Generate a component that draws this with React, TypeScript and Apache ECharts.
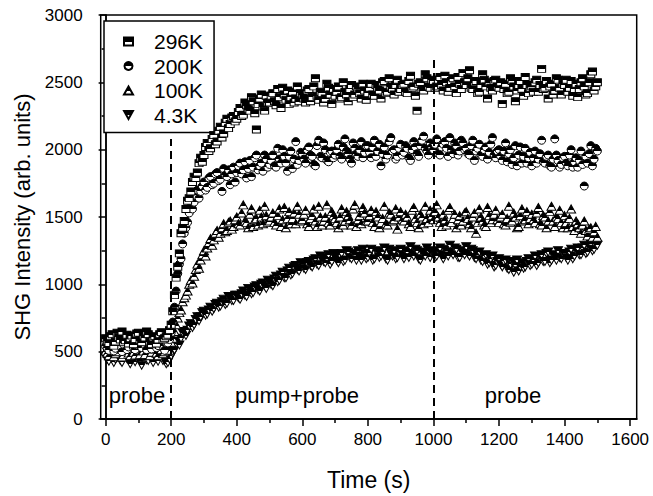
import React, { useEffect, useRef } from "react";
import * as echarts from "echarts";

const FONT = "Liberation Sans, Arial, sans-serif";

// sample times (s), one point every 5 s from 0 to 1500
const times: number[] = [];
for (let t = 0; t <= 1500; t += 5) times.push(t);

const xTickLabels = [0, 200, 400, 600, 800, 1000, 1200, 1400, 1600];
const xMinorTicks = [100, 300, 500, 700, 900, 1100, 1300, 1500];
const yMinorTicks = [250, 750, 1250, 1750, 2250, 2750];

const seriesNames = ["296K", "200K", "100K", "4.3K"];

const v296K = [
  600, 580, 565, 615, 630, 545, 575, 640, 610, 590, 650, 570, 585, 625, 560, 600, 620, 555, 595, 635,
  640, 585, 570, 620, 605, 650, 630, 575, 555, 605, 615, 560, 590, 630, 645, 590, 600, 615, 625, 660,
  700, 800, 920, 1050, 1130, 1230, 1380, 1420, 1470, 1560, 1620, 1640, 1690, 1760, 1800, 1790, 1830, 1900, 1940, 1910,
  1960, 2020, 2050, 1990, 2010, 2080, 2110, 2040, 2060, 2140, 2170, 2090, 2120, 2200, 2230, 2160, 2190, 2240, 2250, 2210,
  2230, 2280, 2310, 2250, 2260, 2350, 2330, 2300, 2290, 2390, 2360, 2270, 2150, 2340, 2380, 2410, 2320, 2290, 2400, 2350,
  2350, 2400, 2420, 2360, 2330, 2450, 2390, 2310, 2460, 2410, 2370, 2440, 2340, 2390, 2430, 2350, 2380, 2470, 2360, 2420,
  2410, 2380, 2350, 2440, 2450, 2360, 2390, 2470, 2530, 2400, 2370, 2430, 2420, 2350, 2380, 2490, 2460, 2410, 2340, 2450,
  2400, 2430, 2470, 2380, 2390, 2500, 2430, 2410, 2360, 2450, 2480, 2390, 2410, 2470, 2450, 2420, 2380, 2490, 2440, 2370,
  2420, 2460, 2490, 2410, 2400, 2480, 2460, 2440, 2380, 2500, 2510, 2420, 2430, 2530, 2470, 2450, 2410, 2480, 2520, 2430,
  2450, 2480, 2490, 2430, 2420, 2510, 2550, 2460, 2470, 2400, 2290, 2490, 2500, 2450, 2440, 2560, 2530, 2470, 2460, 2520,
  2510, 2460, 2470, 2520, 2540, 2480, 2440, 2550, 2500, 2430, 2460, 2510, 2530, 2470, 2420, 2540, 2490, 2450, 2570, 2500,
  2480, 2530, 2590, 2460, 2450, 2500, 2510, 2420, 2430, 2480, 2560, 2520, 2470, 2380, 2500, 2460, 2440, 2510, 2520, 2470,
  2460, 2500, 2340, 2450, 2490, 2420, 2430, 2530, 2510, 2470, 2360, 2440, 2480, 2510, 2450, 2400, 2540, 2480, 2420, 2460,
  2470, 2430, 2500, 2520, 2430, 2480, 2600, 2450, 2460, 2510, 2380, 2470, 2490, 2410, 2440, 2530, 2520, 2460, 2410, 2490,
  2480, 2520, 2430, 2460, 2510, 2400, 2450, 2490, 2390, 2450, 2500, 2530, 2470, 2410, 2420, 2500, 2560, 2580, 2440, 2470,
  2500,
];

const v200K = [
  540, 525, 510, 560, 575, 505, 525, 570, 560, 540, 500, 555, 585, 515, 535, 580, 555, 530, 515, 550,
  570, 545, 530, 590, 550, 515, 595, 555, 520, 575, 560, 530, 545, 600, 580, 540, 510, 570, 565, 590,
  640, 720, 830, 950, 1080, 1150, 1190, 1300, 1380, 1420, 1460, 1530, 1580, 1560, 1610, 1660, 1700, 1640, 1690, 1730,
  1760, 1700, 1720, 1790, 1800, 1740, 1750, 1820, 1830, 1770, 1780, 1690, 1860, 1810, 1800, 1850, 1740, 1820, 1870, 1760,
  1830, 1880, 1900, 1820, 1850, 1910, 1790, 1860, 1920, 1800, 1870, 1940, 1960, 1850, 1880, 1900, 1840, 1960, 1930, 1870,
  1890, 1920, 1960, 1880, 1870, 2010, 1930, 1900, 2000, 1950, 1900, 1840, 1950, 1990, 1860, 1930, 2060, 1890, 1920, 1980,
  1970, 1930, 1900, 2000, 2020, 1960, 1950, 1890, 1880, 2030, 2070, 1950, 1940, 2050, 2000, 1920, 1910, 1980, 1990, 1940,
  1960, 2000, 2040, 1950, 1930, 2020, 2080, 1990, 1970, 1930, 1900, 2050, 2010, 1970, 1950, 2000, 2060, 1940, 1980, 2030,
  2030, 1980, 1940, 2020, 2070, 1950, 1990, 2040, 1880, 1970, 2020, 1930, 1960, 2060, 2090, 1990, 2000, 1930, 1950, 2010,
  2040, 1960, 1980, 2030, 2010, 1940, 1920, 2000, 2060, 2020, 1970, 1950, 2030, 2070, 2100, 2010, 1990, 1960, 2050, 2020,
  2000, 2040, 2080, 1970, 1960, 2020, 2040, 2060, 2010, 1950, 2090, 2000, 1970, 2050, 2030, 1960, 1990, 2070, 2050, 2000,
  2010, 1970, 1960, 2030, 2070, 1920, 1990, 2010, 2040, 1960, 1950, 2000, 2020, 1930, 1980, 2040, 2090, 1960, 1940, 1990,
  2000, 1950, 1920, 1990, 2050, 1910, 1970, 2000, 1890, 1940, 2030, 1880, 1960, 2020, 1900, 1950, 2010, 1900, 1940, 1980,
  1880, 1940, 1990, 1900, 1930, 1970, 2070, 1910, 1900, 1950, 1960, 1880, 1870, 1930, 2080, 1960, 1920, 1870, 1890, 1940,
  1950, 1900, 1880, 1960, 2000, 1870, 1910, 1940, 1870, 1920, 1990, 1890, 1730, 1950, 1900, 1970, 2030, 1880, 1930, 2010,
  1990,
];

const v100K = [
  505, 490, 470, 520, 530, 465, 485, 500, 515, 535, 460, 480, 540, 510, 490, 470, 520, 495, 475, 525,
  510, 480, 535, 505, 480, 540, 525, 470, 495, 520, 545, 490, 470, 530, 515, 485, 500, 545, 530, 510,
  570, 600, 650, 700, 750, 790, 810, 870, 900, 920, 950, 1000, 1030, 1010, 1060, 1110, 1150, 1120, 1180, 1220,
  1250, 1210, 1270, 1310, 1340, 1290, 1330, 1380, 1400, 1350, 1380, 1420, 1450, 1390, 1400, 1460, 1470, 1410, 1430, 1480,
  1500, 1450, 1440, 1530, 1590, 1470, 1460, 1420, 1520, 1560, 1430, 1480, 1490, 1440, 1550, 1500, 1450, 1580, 1510, 1460,
  1470, 1500, 1530, 1460, 1440, 1510, 1560, 1430, 1480, 1570, 1420, 1490, 1540, 1450, 1490, 1530, 1450, 1580, 1520, 1470,
  1480, 1520, 1550, 1450, 1430, 1490, 1510, 1560, 1470, 1430, 1580, 1500, 1440, 1470, 1500, 1590, 1460, 1440, 1540, 1510,
  1490, 1460, 1420, 1500, 1560, 1440, 1470, 1540, 1510, 1480, 1440, 1560, 1590, 1430, 1480, 1510, 1450, 1570, 1530, 1470,
  1470, 1510, 1550, 1460, 1430, 1540, 1500, 1420, 1460, 1490, 1580, 1450, 1440, 1530, 1520, 1470, 1480, 1560, 1410, 1500,
  1540, 1480, 1470, 1520, 1500, 1450, 1430, 1550, 1570, 1490, 1460, 1420, 1520, 1500, 1450, 1580, 1490, 1460, 1550, 1510,
  1480, 1540, 1590, 1500, 1460, 1430, 1520, 1480, 1440, 1550, 1570, 1460, 1490, 1520, 1420, 1480, 1510, 1440, 1470, 1530,
  1540, 1490, 1450, 1420, 1500, 1530, 1380, 1460, 1560, 1500, 1470, 1440, 1430, 1570, 1510, 1460, 1480, 1520, 1550, 1480,
  1460, 1500, 1520, 1450, 1440, 1490, 1580, 1460, 1470, 1530, 1500, 1420, 1430, 1510, 1560, 1470, 1480, 1540, 1450, 1490,
  1520, 1480, 1460, 1530, 1570, 1450, 1440, 1510, 1500, 1420, 1470, 1540, 1580, 1470, 1430, 1500, 1490, 1550, 1460, 1420,
  1510, 1460, 1420, 1490, 1560, 1430, 1400, 1470, 1450, 1420, 1380, 1440, 1470, 1400, 1360, 1410, 1420, 1350, 1390, 1430,
  1350,
];

const v4_3K = [
  460, 445, 430, 475, 485, 420, 445, 460, 470, 435, 420, 480, 490, 450, 440, 410, 465, 475, 425, 455,
  455, 430, 400, 465, 475, 440, 435, 490, 460, 420, 480, 450, 430, 465, 470, 435, 445, 410, 420, 445,
  470, 490, 515, 560, 580, 550, 600, 640, 650, 620, 660, 690, 710, 680, 700, 740, 760, 730, 760, 790,
  800, 770, 780, 810, 830, 800, 820, 850, 860, 830, 840, 870, 890, 850, 860, 910, 900, 880, 880, 920,
  920, 900, 890, 930, 950, 920, 910, 970, 960, 930, 940, 980, 990, 960, 950, 1000, 1010, 990, 970, 1030,
  1020, 1000, 990, 1040, 1060, 1020, 1030, 1070, 1090, 1050, 1050, 1100, 1120, 1070, 1080, 1130, 1140, 1110, 1100, 1160,
  1150, 1120, 1110, 1160, 1170, 1140, 1130, 1180, 1190, 1150, 1140, 1210, 1200, 1170, 1160, 1190, 1220, 1150, 1170, 1230,
  1210, 1180, 1160, 1220, 1230, 1170, 1180, 1250, 1240, 1200, 1190, 1230, 1220, 1180, 1250, 1210, 1180, 1260, 1230, 1190,
  1200, 1230, 1260, 1180, 1190, 1250, 1240, 1200, 1210, 1240, 1270, 1190, 1180, 1260, 1230, 1210, 1250, 1190, 1200, 1240,
  1260, 1220, 1190, 1250, 1240, 1200, 1280, 1230, 1210, 1260, 1250, 1190, 1180, 1240, 1230, 1210, 1270, 1250, 1200, 1230,
  1240, 1200, 1210, 1250, 1270, 1220, 1190, 1260, 1250, 1210, 1290, 1240, 1220, 1270, 1260, 1200, 1200, 1250, 1240, 1220,
  1280, 1230, 1210, 1260, 1250, 1200, 1190, 1220, 1240, 1180, 1170, 1210, 1220, 1150, 1160, 1190, 1210, 1130, 1140, 1170,
  1190, 1150, 1130, 1170, 1180, 1120, 1110, 1150, 1170, 1090, 1140, 1180, 1100, 1130, 1160, 1120, 1130, 1170, 1190, 1140,
  1150, 1180, 1210, 1140, 1160, 1200, 1220, 1170, 1170, 1230, 1240, 1160, 1180, 1220, 1210, 1180, 1250, 1200, 1190, 1230,
  1230, 1200, 1180, 1240, 1260, 1190, 1210, 1250, 1270, 1220, 1220, 1270, 1290, 1230, 1240, 1280, 1300, 1250, 1260, 1310,
  1290,
];

const allValues = [v296K, v200K, v100K, v4_3K];

// boundaries of the pump period (s) and top of the dashed markers
const pumpOn = 200;
const pumpOff = 1000;
const pumpOnLineTop = 2080;
const pumpOffLineTop = 2680;

const symbols = [
  "rect",
  "circle",
  "triangle",
  "path://M0,0 L10,0 L5,9 Z",
];
const symbolSizes: any[] = [[8, 7], 8, [9, 8], [9, 8]];
const blackShare = [0.55, 0.5, 0.62, 0.5];

export default function App() {
  const ref = useRef<HTMLDivElement>(null);

  useEffect(() => {
    if (!ref.current) return;
    const chart = echarts.init(ref.current, undefined, { renderer: "svg" });

    const halfFill = (share: number) =>
      new echarts.graphic.LinearGradient(0, 0, 0, 1, [
        { offset: 0, color: "#000" },
        { offset: share, color: "#000" },
        { offset: share, color: "#fff" },
        { offset: 1, color: "#fff" },
      ]);

    const series: any[] = allValues.map((vals, i) => ({
      name: seriesNames[i],
      type: "scatter",
      xAxisIndex: 0,
      yAxisIndex: 0,
      symbol: symbols[i],
      symbolSize: symbolSizes[i],
      data: vals.map((v, k) => [times[k], v]),
      itemStyle: { color: halfFill(blackShare[i]), borderColor: "#000", borderWidth: 1, opacity: 1 },
      emphasis: { disabled: true },
      z: 4 - i,
    }));

    series[0].markLine = {
      silent: true,
      symbol: "none",
      label: { show: false },
      lineStyle: { color: "#000", width: 2, type: [8, 5] },
      z: 10,
      data: [
        [{ coord: [pumpOn, 0] }, { coord: [pumpOn, pumpOnLineTop] }],
        [{ coord: [pumpOff, 0] }, { coord: [pumpOff, pumpOffLineTop] }],
      ],
    };

    const labelStyle = { fontFamily: FONT, fontSize: 17, color: "#000" };
    const plain = (v: number) => String(v);
    const axisLineStyle = { show: true, lineStyle: { color: "#000", width: 1.5 } };

    chart.setOption({
      animation: false,
      backgroundColor: "#fff",
      grid: {
        left: 100.7,
        right: 16.3,
        top: 15,
        bottom: 74.3,
        show: true,
        borderColor: "#000",
        borderWidth: 1.5,
        backgroundColor: "transparent",
      },
      legend: {
        orient: "vertical",
        left: 104,
        top: 21,
        padding: [10, 11, 7, 19],
        itemGap: 3.5,
        itemWidth: 9,
        itemHeight: 8,
        backgroundColor: "#fff",
        borderColor: "#000",
        borderWidth: 1.5,
        borderRadius: 0,
        textStyle: { fontFamily: FONT, fontSize: 21, color: "#000", padding: [0, 0, 0, 16] },
        selectedMode: false,
        data: seriesNames,
      },
      xAxis: [
        {
          type: "value",
          min: -15,
          max: 1620,
          name: "Time (s)",
          nameLocation: "middle",
          nameGap: 49,
          nameTextStyle: { fontFamily: FONT, fontSize: 23, color: "#000" },
          axisLine: axisLineStyle,
          axisTick: { show: true, inside: false, length: 7, customValues: xTickLabels, lineStyle: { color: "#000", width: 1.5 } },
          axisLabel: { show: true, margin: 12, customValues: xTickLabels, formatter: plain, ...labelStyle },
          splitLine: { show: false },
        },
        {
          type: "value",
          min: -15,
          max: 1620,
          position: "bottom",
          axisLine: axisLineStyle,
          axisTick: { show: true, inside: false, length: 4, customValues: xMinorTicks, lineStyle: { color: "#000", width: 1.5 } },
          axisLabel: { show: false },
          splitLine: { show: false },
        },
      ],
      yAxis: [
        {
          type: "value",
          min: 0,
          max: 3000,
          interval: 500,
          position: "left",
          name: "SHG Intensity (arb. units)",
          nameLocation: "middle",
          nameGap: 67,
          nameTextStyle: { fontFamily: FONT, fontSize: 22, color: "#000" },
          axisLine: axisLineStyle,
          axisTick: { show: true, inside: false, length: 7, lineStyle: { color: "#000", width: 1.5 } },
          axisLabel: { margin: 18, formatter: plain, ...labelStyle },
          splitLine: { show: false },
        },
        {
          type: "value",
          min: 0,
          max: 3000,
          position: "left",
          axisLine: axisLineStyle,
          axisTick: { show: true, inside: false, length: 4, customValues: yMinorTicks, lineStyle: { color: "#000", width: 1.5 } },
          axisLabel: { show: false },
          splitLine: { show: false },
        },
      ],
      graphic: [
        { type: "text", silent: true, style: { text: "probe", x: 137, y: 395, align: "center", verticalAlign: "middle", fontFamily: FONT, fontSize: 22, fill: "#000" } },
        { type: "text", silent: true, style: { text: "pump+probe", x: 297, y: 395, align: "center", verticalAlign: "middle", fontFamily: FONT, fontSize: 22, fill: "#000" } },
        { type: "text", silent: true, style: { text: "probe", x: 513, y: 395, align: "center", verticalAlign: "middle", fontFamily: FONT, fontSize: 22, fill: "#000" } },
      ],
      series,
    });

    return () => chart.dispose();
  }, []);

  return (
    <div
      ref={ref}
      style={{ position: "fixed", left: 0, top: 0, width: 653, height: 496, background: "#fff" }}
    />
  );
}
